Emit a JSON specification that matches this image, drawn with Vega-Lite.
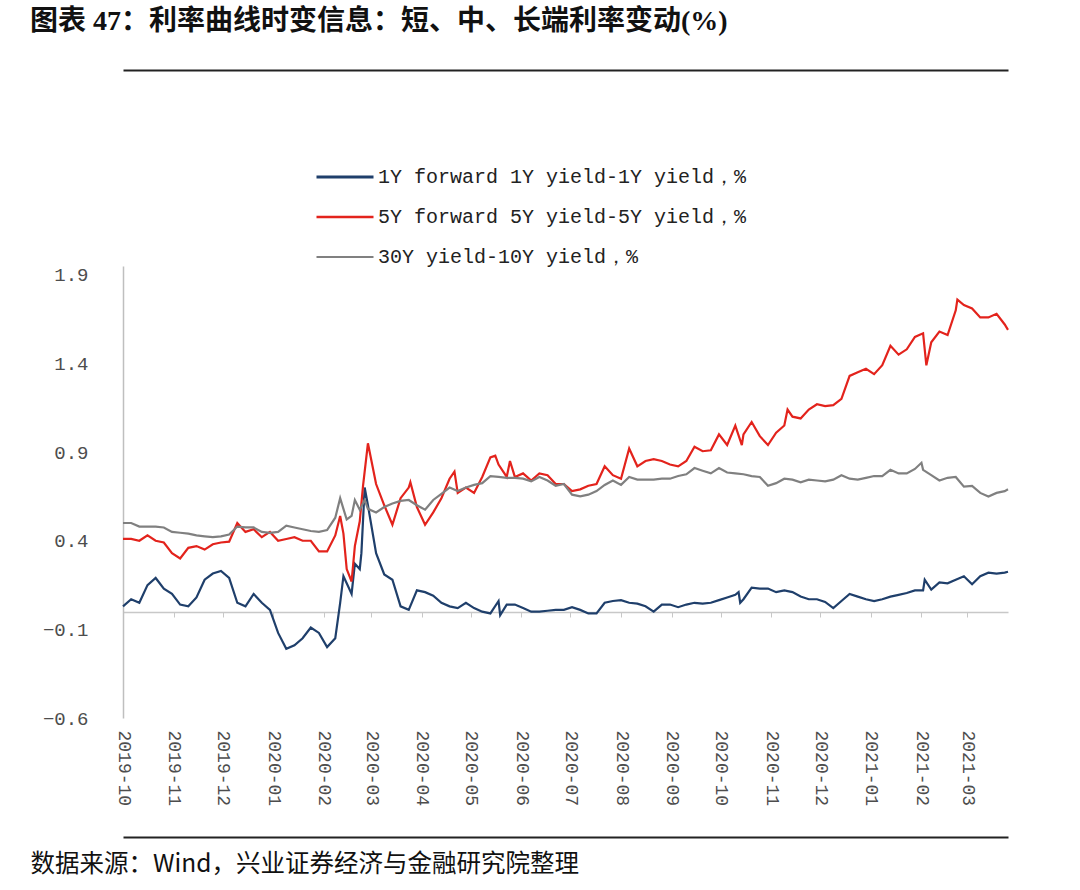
{
  "$schema": "https://vega.github.io/schema/vega-lite/v6.json",
  "width": 885,
  "height": 452,
  "autosize": {"type": "none"},
  "padding": {"left": 123, "top": 266, "right": 72, "bottom": 172},
  "background": "white",
  "config": {"view": {"stroke": null}},
  "title": {
    "text": "图表 47：利率曲线时变信息：短、中、长端利率变动(%)",
    "anchor": "start",
    "frame": "group",
    "font": "Liberation Serif, Noto Sans CJK SC",
    "fontSize": 28,
    "fontWeight": "bold",
    "color": "#111111",
    "dx": -93,
    "offset": 34
  },
  "data": {
    "values": [
      {"d": "2019-10-01", "a": 0.03, "b": 0.41, "c": 0.50},
      {"d": "2019-10-06", "a": 0.07, "b": 0.41, "c": 0.50},
      {"d": "2019-10-11", "a": 0.05, "b": 0.40, "c": 0.48},
      {"d": "2019-10-16", "a": 0.15, "b": 0.43, "c": 0.48},
      {"d": "2019-10-21", "a": 0.19, "b": 0.40, "c": 0.48},
      {"d": "2019-10-26", "a": 0.13, "b": 0.39, "c": 0.475},
      {"d": "2019-10-31", "a": 0.10, "b": 0.33, "c": 0.45},
      {"d": "2019-11-05", "a": 0.04, "b": 0.30, "c": 0.445},
      {"d": "2019-11-10", "a": 0.03, "b": 0.36, "c": 0.44},
      {"d": "2019-11-15", "a": 0.08, "b": 0.37, "c": 0.43},
      {"d": "2019-11-20", "a": 0.18, "b": 0.35, "c": 0.425},
      {"d": "2019-11-25", "a": 0.215, "b": 0.38, "c": 0.42},
      {"d": "2019-11-30", "a": 0.23, "b": 0.39, "c": 0.425},
      {"d": "2019-12-05", "a": 0.19, "b": 0.395, "c": 0.435},
      {"d": "2019-12-10", "a": 0.05, "b": 0.50, "c": 0.48},
      {"d": "2019-12-15", "a": 0.03, "b": 0.45, "c": 0.475},
      {"d": "2019-12-20", "a": 0.10, "b": 0.465, "c": 0.475},
      {"d": "2019-12-25", "a": 0.05, "b": 0.42, "c": 0.45},
      {"d": "2019-12-30", "a": 0.01, "b": 0.45, "c": 0.445},
      {"d": "2020-01-04", "a": -0.12, "b": 0.40, "c": 0.45},
      {"d": "2020-01-09", "a": -0.21, "b": 0.41, "c": 0.485},
      {"d": "2020-01-14", "a": -0.19, "b": 0.42, "c": 0.475},
      {"d": "2020-01-19", "a": -0.15, "b": 0.40, "c": 0.465},
      {"d": "2020-01-24", "a": -0.09, "b": 0.40, "c": 0.455},
      {"d": "2020-01-29", "a": -0.12, "b": 0.34, "c": 0.45},
      {"d": "2020-02-03", "a": -0.20, "b": 0.34, "c": 0.46},
      {"d": "2020-02-08", "a": -0.15, "b": 0.43, "c": 0.53},
      {"d": "2020-02-11", "a": 0.05, "b": 0.54, "c": 0.64},
      {"d": "2020-02-13", "a": 0.20, "b": 0.44, "c": 0.58},
      {"d": "2020-02-15", "a": 0.16, "b": 0.24, "c": 0.52},
      {"d": "2020-02-18", "a": 0.10, "b": 0.17, "c": 0.54},
      {"d": "2020-02-20", "a": 0.27, "b": 0.37, "c": 0.63},
      {"d": "2020-02-23", "a": 0.24, "b": 0.51, "c": 0.575},
      {"d": "2020-02-24", "a": 0.33},
      {"d": "2020-02-25", "b": 0.71},
      {"d": "2020-02-26", "a": 0.70, "c": 0.63},
      {"d": "2020-02-28", "a": 0.60, "b": 0.95, "c": 0.58},
      {"d": "2020-03-04", "a": 0.33, "b": 0.72, "c": 0.56},
      {"d": "2020-03-09", "a": 0.21, "b": 0.60, "c": 0.59},
      {"d": "2020-03-14", "a": 0.18, "b": 0.49, "c": 0.61},
      {"d": "2020-03-19", "a": 0.03, "b": 0.64, "c": 0.625},
      {"d": "2020-03-24", "a": 0.01, "b": 0.70, "c": 0.63},
      {"d": "2020-03-25", "b": 0.73},
      {"d": "2020-03-29", "a": 0.12, "b": 0.59, "c": 0.60},
      {"d": "2020-04-03", "a": 0.11, "b": 0.49, "c": 0.575},
      {"d": "2020-04-08", "a": 0.09, "b": 0.56, "c": 0.63},
      {"d": "2020-04-13", "a": 0.05, "b": 0.64, "c": 0.665},
      {"d": "2020-04-18", "a": 0.03, "b": 0.75, "c": 0.70},
      {"d": "2020-04-21", "b": 0.79},
      {"d": "2020-04-23", "a": 0.02, "b": 0.67, "c": 0.68},
      {"d": "2020-04-28", "a": 0.05, "b": 0.70, "c": 0.70},
      {"d": "2020-05-03", "a": 0.02, "b": 0.67, "c": 0.715},
      {"d": "2020-05-08", "a": 0.0, "b": 0.76, "c": 0.725},
      {"d": "2020-05-13", "a": -0.01, "b": 0.87, "c": 0.765},
      {"d": "2020-05-16", "b": 0.88},
      {"d": "2020-05-18", "a": 0.06, "b": 0.83, "c": 0.76},
      {"d": "2020-05-19", "a": -0.02},
      {"d": "2020-05-23", "a": 0.04, "b": 0.76, "c": 0.755},
      {"d": "2020-05-25", "b": 0.85},
      {"d": "2020-05-28", "a": 0.04, "b": 0.76, "c": 0.755},
      {"d": "2020-06-02", "a": 0.02, "b": 0.78, "c": 0.75},
      {"d": "2020-06-07", "a": 0.0, "b": 0.74, "c": 0.735},
      {"d": "2020-06-12", "a": 0.0, "b": 0.78, "c": 0.76},
      {"d": "2020-06-17", "a": 0.005, "b": 0.77, "c": 0.74},
      {"d": "2020-06-22", "a": 0.01, "b": 0.72, "c": 0.71},
      {"d": "2020-06-27", "a": 0.01, "b": 0.72, "c": 0.72},
      {"d": "2020-07-02", "a": 0.025, "b": 0.68, "c": 0.66},
      {"d": "2020-07-07", "a": 0.01, "b": 0.69, "c": 0.65},
      {"d": "2020-07-12", "a": -0.01, "b": 0.71, "c": 0.66},
      {"d": "2020-07-17", "a": -0.01, "b": 0.72, "c": 0.68},
      {"d": "2020-07-22", "a": 0.05, "b": 0.82, "c": 0.715},
      {"d": "2020-07-27", "a": 0.06, "b": 0.77, "c": 0.74},
      {"d": "2020-08-01", "a": 0.065, "b": 0.75, "c": 0.715},
      {"d": "2020-08-06", "a": 0.05, "b": 0.92, "c": 0.76},
      {"d": "2020-08-11", "a": 0.045, "b": 0.82, "c": 0.745},
      {"d": "2020-08-16", "a": 0.03, "b": 0.85, "c": 0.745},
      {"d": "2020-08-21", "a": 0.0, "b": 0.86, "c": 0.745},
      {"d": "2020-08-26", "a": 0.04, "b": 0.85, "c": 0.75},
      {"d": "2020-08-31", "a": 0.04, "b": 0.83, "c": 0.75},
      {"d": "2020-09-05", "a": 0.025, "b": 0.82, "c": 0.765},
      {"d": "2020-09-10", "a": 0.04, "b": 0.85, "c": 0.775},
      {"d": "2020-09-15", "a": 0.05, "b": 0.93, "c": 0.81},
      {"d": "2020-09-20", "a": 0.045, "b": 0.905, "c": 0.795},
      {"d": "2020-09-25", "a": 0.05, "b": 0.91, "c": 0.78},
      {"d": "2020-09-30", "a": 0.065, "b": 1.0, "c": 0.81},
      {"d": "2020-10-05", "a": 0.08, "b": 0.94, "c": 0.785},
      {"d": "2020-10-10", "a": 0.095, "b": 1.05, "c": 0.78},
      {"d": "2020-10-12", "a": 0.11},
      {"d": "2020-10-13", "a": 0.05},
      {"d": "2020-10-14", "b": 0.94},
      {"d": "2020-10-15", "a": 0.07, "b": 1.0, "c": 0.775},
      {"d": "2020-10-20", "a": 0.135, "b": 1.07, "c": 0.765},
      {"d": "2020-10-25", "a": 0.13, "b": 0.99, "c": 0.76},
      {"d": "2020-10-30", "a": 0.13, "b": 0.94, "c": 0.71},
      {"d": "2020-11-04", "a": 0.11, "b": 1.01, "c": 0.725},
      {"d": "2020-11-09", "a": 0.12, "b": 1.05, "c": 0.75},
      {"d": "2020-11-11", "b": 1.14},
      {"d": "2020-11-14", "a": 0.11, "b": 1.10, "c": 0.745},
      {"d": "2020-11-19", "a": 0.085, "b": 1.09, "c": 0.73},
      {"d": "2020-11-24", "a": 0.07, "b": 1.14, "c": 0.745},
      {"d": "2020-11-29", "a": 0.07, "b": 1.17, "c": 0.74},
      {"d": "2020-12-04", "a": 0.055, "b": 1.16, "c": 0.735},
      {"d": "2020-12-09", "a": 0.02, "b": 1.165, "c": 0.745},
      {"d": "2020-12-14", "a": 0.06, "b": 1.20, "c": 0.77},
      {"d": "2020-12-19", "a": 0.10, "b": 1.33, "c": 0.75},
      {"d": "2020-12-24", "a": 0.085, "b": 1.35, "c": 0.745},
      {"d": "2020-12-29", "a": 0.07, "b": 1.37, "c": 0.755},
      {"d": "2021-01-03", "a": 0.06, "b": 1.34, "c": 0.765},
      {"d": "2021-01-08", "a": 0.07, "b": 1.39, "c": 0.765},
      {"d": "2021-01-13", "a": 0.085, "b": 1.50, "c": 0.80},
      {"d": "2021-01-18", "a": 0.095, "b": 1.45, "c": 0.78},
      {"d": "2021-01-23", "a": 0.105, "b": 1.48, "c": 0.78},
      {"d": "2021-01-28", "a": 0.12, "b": 1.55, "c": 0.805},
      {"d": "2021-02-01", "c": 0.84},
      {"d": "2021-02-02", "a": 0.12, "b": 1.57, "c": 0.80},
      {"d": "2021-02-03", "a": 0.18},
      {"d": "2021-02-04", "b": 1.39},
      {"d": "2021-02-07", "a": 0.125, "b": 1.52, "c": 0.77},
      {"d": "2021-02-12", "a": 0.165, "b": 1.58, "c": 0.74},
      {"d": "2021-02-17", "a": 0.16, "b": 1.56, "c": 0.755},
      {"d": "2021-02-22", "a": 0.18, "b": 1.70, "c": 0.76},
      {"d": "2021-02-23", "b": 1.76},
      {"d": "2021-02-27", "a": 0.20, "b": 1.73, "c": 0.705},
      {"d": "2021-03-04", "a": 0.155, "b": 1.71, "c": 0.71},
      {"d": "2021-03-09", "a": 0.20, "b": 1.66, "c": 0.67},
      {"d": "2021-03-14", "a": 0.22, "b": 1.66, "c": 0.65},
      {"d": "2021-03-19", "a": 0.215, "b": 1.68, "c": 0.67},
      {"d": "2021-03-24", "a": 0.22, "b": 1.62, "c": 0.68},
      {"d": "2021-03-26", "a": 0.225, "b": 1.59, "c": 0.69}
    ]
  },
  "transform": [
    {"fold": ["a", "b", "c"], "as": ["k", "v"]},
    {"filter": "isValid(datum.v)"}
  ],
  "encoding": {
    "y": {
      "field": "v",
      "type": "quantitative",
      "scale": {"domain": [-0.6, 1.95], "nice": false, "zero": false},
      "axis": {
        "title": null,
        "values": [-0.6, -0.1, 0.4, 0.9, 1.4, 1.9],
        "format": ".1f",
        "grid": false,
        "ticks": false,
        "domainColor": "#bfbfbf",
        "domainWidth": 1.5,
        "labelFont": "Liberation Mono",
        "labelFontSize": 19,
        "labelColor": "#4d4d4d",
        "labelPadding": 35
      }
    }
  },
  "layer": [
    {
      "mark": {"type": "line", "strokeWidth": 2.2, "interpolate": "linear"},
      "encoding": {
        "x": {
          "field": "d",
          "type": "temporal",
          "scale": {"type": "utc", "domain": [{"year": 2019, "month": 10, "date": 1, "utc": true}, {"year": 2021, "month": 3, "date": 26, "utc": true}]},
          "axis": {
            "title": null,
            "orient": "bottom",
            "offset": -106,
            "values": [
              {"year": 2019, "month": 10, "date": 1, "utc": true},
              {"year": 2019, "month": 11, "date": 1, "utc": true},
              {"year": 2019, "month": 12, "date": 1, "utc": true},
              {"year": 2020, "month": 1, "date": 1, "utc": true},
              {"year": 2020, "month": 2, "date": 1, "utc": true},
              {"year": 2020, "month": 3, "date": 1, "utc": true},
              {"year": 2020, "month": 4, "date": 1, "utc": true},
              {"year": 2020, "month": 5, "date": 1, "utc": true},
              {"year": 2020, "month": 6, "date": 1, "utc": true},
              {"year": 2020, "month": 7, "date": 1, "utc": true},
              {"year": 2020, "month": 8, "date": 1, "utc": true},
              {"year": 2020, "month": 9, "date": 1, "utc": true},
              {"year": 2020, "month": 10, "date": 1, "utc": true},
              {"year": 2020, "month": 11, "date": 1, "utc": true},
              {"year": 2020, "month": 12, "date": 1, "utc": true},
              {"year": 2021, "month": 1, "date": 1, "utc": true},
              {"year": 2021, "month": 2, "date": 1, "utc": true},
              {"year": 2021, "month": 3, "date": 1, "utc": true}
            ],
            "labelExpr": "utcFormat(datum.value, '%Y-%m')",
            "grid": false,
            "domainColor": "#c8c8c8",
            "domainWidth": 1.5,
            "tickColor": "#c8c8c8",
            "tickSize": 5,
            "labelAngle": 90,
            "labelAlign": "left",
            "labelBaseline": "middle",
            "labelPadding": 113,
            "labelFlush": false,
            "labelOverlap": false,
            "labelFont": "Liberation Mono",
            "labelFontSize": 18,
            "labelColor": "#4d4d4d"
          }
        },
        "color": {
          "field": "k",
          "type": "nominal",
          "scale": {"domain": ["a", "b", "c"], "range": ["#1f3f6b", "#e3231c", "#808080"]},
          "legend": {
            "orient": "none",
            "legendX": 192,
            "legendY": -119,
            "direction": "vertical",
            "title": null,
            "symbolType": "stroke",
            "symbolSize": 3249,
            "symbolStrokeWidth": 3,
            "labelFont": "Liberation Mono",
            "labelFontSize": 20,
            "labelColor": "#222222",
            "labelLimit": 0,
            "labelOffset": 3,
            "rowPadding": 0,
            "labelExpr": "datum.value == 'a' ? '1Y forward 1Y yield-1Y yield，%' : datum.value == 'b' ? '5Y forward 5Y yield-5Y yield，%' : '30Y yield-10Y yield，%'"
          }
        },
        "strokeWidth": {
          "field": "k",
          "type": "nominal",
          "scale": {"domain": ["a", "b", "c"], "range": [3, 2.2, 2.4]},
          "legend": null
        }
      }
    },
    {
      "mark": {"type": "line", "strokeOpacity": 0},
      "encoding": {
        "x": {
          "field": "d",
          "type": "temporal",
          "axis": {
            "title": null,
            "orient": "top",
            "offset": 196,
            "labels": false,
            "ticks": false,
            "grid": false,
            "domainColor": "#222222",
            "domainWidth": 2
          }
        },
        "detail": {"field": "k"}
      }
    },
    {
      "mark": {"type": "line", "strokeOpacity": 0},
      "encoding": {
        "x": {
          "field": "d",
          "type": "temporal",
          "axis": {
            "title": "数据来源：Wind，兴业证券经济与金融研究院整理",
            "titleX": -93,
            "titleY": 34,
            "titleAlign": "left",
            "titleBaseline": "alphabetic",
            "titleAngle": 0,
            "titleFont": "Noto Sans CJK SC",
            "titleFontSize": 24.5,
            "titleFontWeight": "normal",
            "titleColor": "#111111",
            "orient": "bottom",
            "offset": 119,
            "labels": false,
            "ticks": false,
            "grid": false,
            "domainColor": "#222222",
            "domainWidth": 2
          }
        },
        "detail": {"field": "k"}
      }
    }
  ],
  "resolve": {"axis": {"x": "independent"}}
}
